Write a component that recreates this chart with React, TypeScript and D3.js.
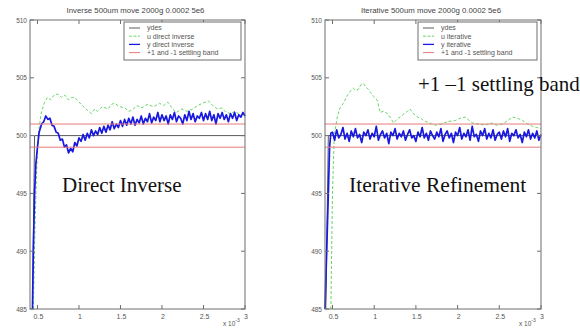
import * as d3 from 'd3';
import React from 'react';

// axis setup shared by both panels
const X_TICKS = [0.5, 1, 1.5, 2, 2.5, 3];
const X_TICK_LABELS = ['0.5', '1', '1.5', '2', '2.5', '3'];
const Y_TICKS = [485, 490, 495, 500, 505, 510];
const X_DOMAIN = [0.41, 3];
const Y_DOMAIN = [485, 510];
const BAND = [499, 501];

const LEFT_TITLE = 'Inverse 500um move 2000g 0.0002 5e6';
const RIGHT_TITLE = 'Iterative 500um move 2000g 0.0002 5e6';
const LEFT_LEGEND = ['ydes', 'u direct inverse', 'y direct inverse', '+1 and -1 settling band'];
const RIGHT_LEGEND = ['ydes', 'u iterative', 'y iterative', '+1 and -1 settling band'];

// ydes reference step
const LEFT_YDES = [[0.44, 485], [0.465, 500], [3, 500]];
const RIGHT_YDES = [[0.42, 485], [0.45, 500], [3, 500]];

// u (control)
const LEFT_U = [
  [0.45, 485], [0.47, 492], [0.49, 497], [0.51, 500], [0.54, 501.8], [0.58, 502.8], [0.62, 503.3],
  [0.66, 503.1], [0.7, 503.5], [0.75, 503.6], [0.79, 503.3], [0.83, 503.5], [0.87, 503.1], [0.91, 503.3],
  [0.95, 503.3], [1.0, 502.9], [1.04, 502.6], [1.1, 502.2], [1.15, 501.9], [1.19, 502.3], [1.22, 502.1],
  [1.28, 502.5], [1.35, 502.3], [1.39, 502.7], [1.43, 502.8], [1.49, 502.5], [1.55, 502.4], [1.6, 502.1],
  [1.64, 502.2], [1.7, 502.6], [1.76, 502.4], [1.82, 502.7], [1.9, 502.5], [1.97, 502.8], [2.02, 502.6],
  [2.07, 502.9], [2.12, 502.4], [2.17, 502.0], [2.24, 502.3], [2.3, 502.1], [2.37, 502.3], [2.43, 502.6],
  [2.49, 502.8], [2.56, 503.0], [2.61, 502.6], [2.67, 502.3], [2.72, 502.4], [2.76, 502.1], [2.82, 501.9],
  [2.88, 502.1], [2.94, 501.8], [3.0, 501.9],
];
const RIGHT_U = [
  [0.48, 485], [0.5, 495], [0.52, 500], [0.56, 501.7], [0.59, 502.4], [0.63, 502.8], [0.68, 503.5],
  [0.72, 503.9], [0.75, 504.1], [0.78, 503.9], [0.81, 504.0], [0.84, 504.4], [0.87, 504.5], [0.9, 504.2],
  [0.93, 504.0], [0.96, 503.7], [0.99, 503.4], [1.02, 503.2], [1.04, 503.0], [1.07, 502.0], [1.11, 502.1],
  [1.16, 501.9], [1.2, 501.5], [1.23, 501.1], [1.27, 501.4], [1.31, 501.6], [1.36, 501.9], [1.4, 502.1],
  [1.43, 502.3], [1.47, 501.9], [1.52, 501.6], [1.56, 501.5], [1.59, 501.3], [1.66, 501.1], [1.73, 500.9],
  [1.8, 501.0], [1.88, 501.2], [1.97, 501.3], [2.03, 501.5], [2.09, 501.6], [2.14, 501.3], [2.18, 501.1],
  [2.25, 501.0], [2.33, 500.9], [2.4, 501.1], [2.47, 500.9], [2.54, 501.0], [2.6, 501.3], [2.66, 501.6],
  [2.72, 501.5], [2.78, 501.3], [2.84, 501.0], [2.9, 500.8], [2.95, 500.7], [3.0, 500.6],
];

// y (output): the steep rise, then the noisy part sampled every 0.025
const LEFT_Y_RISE = [[0.44, 485], [0.45, 490], [0.465, 495], [0.48, 497.5], [0.5, 499], [0.52, 500.3], [0.55, 501]];
const LEFT_Y_START = 0.575;
const LEFT_Y = [
  501.2, 501.7, 501.4, 501.5, 500.9, 500.8, 500.3, 500.2, 499.6, 499.7,
  499.0, 499.2, 498.5, 498.9, 498.6, 499.4, 499.1, 499.8, 499.5, 500.1,
  499.6, 500.2, 499.8, 500.5, 500.0, 500.4, 500.1, 500.7, 500.2, 500.8,
  500.3, 500.9, 500.5, 501.2, 500.6, 501.0, 500.7, 501.3, 500.8, 501.4,
  500.9, 501.5, 501.0, 501.6, 500.9, 501.4, 501.1, 501.7, 501.0, 501.5,
  501.2, 501.9, 501.1, 501.6, 501.3, 502.0, 501.2, 501.8, 501.3, 501.7,
  501.0, 501.8, 501.4, 502.0, 501.2, 501.7, 501.5, 501.0, 501.8, 501.3,
  502.1, 501.4, 501.9, 501.2, 501.7, 501.5, 502.0, 501.3, 501.9, 501.4,
  502.1, 501.3, 501.8, 501.0, 501.9, 501.5, 502.0, 501.4, 501.8, 501.2,
  501.9, 501.5, 502.0, 501.3, 501.8, 501.6, 502.0, 501.7,
];
const RIGHT_Y_RISE = [[0.41, 485], [0.43, 490], [0.45, 495], [0.465, 499], [0.48, 500.2]];
const RIGHT_Y_START = 0.5;
const RIGHT_Y = [
  500.3, 499.6, 500.5, 499.8, 500.1, 500.7, 499.7, 500.2, 499.5, 500.4,
  499.9, 500.6, 499.8, 500.1, 499.4, 500.3, 500.0, 500.5, 499.7, 500.2,
  499.9, 500.8, 499.6, 500.1, 500.4, 499.8, 500.2, 499.3, 500.3, 500.0,
  500.6, 499.7, 500.2, 499.9, 500.4, 499.6, 500.1, 500.5, 499.8, 500.0,
  499.5, 500.3, 499.9, 500.7, 499.8, 500.2, 499.6, 500.4, 500.0, 499.7,
  500.3, 499.9, 500.6, 499.5, 500.1, 500.4, 499.8, 500.2, 499.4, 500.3,
  500.0, 500.7, 499.7, 500.2, 499.9, 500.5, 499.6, 500.8, 499.9, 500.1,
  499.5, 500.4, 500.0, 500.6, 499.7, 500.2, 499.8, 500.5, 499.6, 500.1,
  500.3, 499.7, 500.4, 499.9, 500.6, 499.5, 500.2, 500.0, 500.5, 499.8,
  500.1, 499.4, 500.3, 499.9, 500.5, 499.7, 500.2, 499.8, 500.4, 499.6,
  500.1,
];

const C_YDES = '#5a5a5a';
const C_U = '#66d866';
const C_Y = '#1818e0';
const C_BAND = '#e87a7a';
const C_AXIS = '#6e6e6e';
const SMALL_FONT = '"Liberation Sans", Arial, sans-serif';
const SERIF = '"Liberation Serif", "Times New Roman", serif';

function toPairs(start, step, values) {
  return values.map((v, i) => [start + i * step, v]);
}

function Panel({ left, right, top, bottom, title, legend, legendX, legendW, ydes, u, y }) {
  const x = d3.scaleLinear().domain(X_DOMAIN).range([left, right]);
  const yS = d3.scaleLinear().domain(Y_DOMAIN).range([bottom, top]);
  const line = d3.line().x(d => x(d[0])).y(d => yS(d[1]));
  const tick = 4;
  const legendColors = [C_YDES, C_U, C_Y, C_BAND];

  return (
    <g>
      <text x={(left + right) / 2 - 2} y={13} textAnchor="middle" fontSize={7.8} fill="#444" fontFamily={SMALL_FONT}>
        {title}
      </text>
      <rect x={left} y={top} width={right - left} height={bottom - top} fill="#fff" />

      <path d={line(ydes) || ''} fill="none" stroke={C_YDES} strokeWidth={1} />
      <path d={line(u) || ''} fill="none" stroke={C_U} strokeWidth={1} strokeDasharray="3,2" />
      <path d={line(y) || ''} fill="none" stroke={C_Y} strokeWidth={1.7} strokeLinejoin="round" />
      {BAND.map(b => (
        <line key={b} x1={left} x2={right} y1={yS(b)} y2={yS(b)} stroke={C_BAND} strokeWidth={1} />
      ))}

      {/* frame and inward ticks */}
      <rect x={left} y={top} width={right - left} height={bottom - top} fill="none" stroke={C_AXIS} strokeWidth={1} />
      {X_TICKS.map((t, i) => (
        <g key={'x' + t}>
          <line x1={x(t)} x2={x(t)} y1={bottom} y2={bottom - tick} stroke={C_AXIS} />
          <line x1={x(t)} x2={x(t)} y1={top} y2={top + tick} stroke={C_AXIS} />
          <text x={x(t) + 1} y={bottom + 10} textAnchor="middle" fontSize={7} fill="#555" fontFamily={SMALL_FONT}>
            {X_TICK_LABELS[i]}
          </text>
        </g>
      ))}
      {Y_TICKS.map(t => (
        <g key={'y' + t}>
          <line x1={left} x2={left + tick} y1={yS(t)} y2={yS(t)} stroke={C_AXIS} />
          <line x1={right} x2={right - tick} y1={yS(t)} y2={yS(t)} stroke={C_AXIS} />
          <text x={left - 3} y={yS(t) + 2.5} textAnchor="end" fontSize={6.5} fill="#555" fontFamily={SMALL_FONT}>
            {t}
          </text>
        </g>
      ))}
      <text x={right - 22} y={326} fontSize={6.5} fill="#555" fontFamily={SMALL_FONT}>
        x 10<tspan dy={-4} fontSize={5}>-3</tspan>
      </text>

      {/* legend */}
      <rect x={legendX} y={22} width={legendW} height={38} fill="#fff" stroke={C_AXIS} strokeWidth={1} />
      {legend.map((label, i) => (
        <g key={label}>
          <line x1={legendX + 5} x2={legendX + 16} y1={28 + i * 8.2} y2={28 + i * 8.2} stroke={legendColors[i]}
            strokeWidth={i === 2 ? 1.3 : 1} strokeDasharray={i === 1 ? '3,1.5' : undefined} />
          <text x={legendX + 23} y={30.4 + i * 8.2} fontSize={7} fill="#555" fontFamily={SMALL_FONT}>
            {label}
          </text>
        </g>
      ))}
    </g>
  );
}

export default function App() {
  const leftY = [...LEFT_Y_RISE, ...toPairs(LEFT_Y_START, 0.025, LEFT_Y)];
  const rightY = [...RIGHT_Y_RISE, ...toPairs(RIGHT_Y_START, 0.025, RIGHT_Y)];

  return (
    <svg width={580} height={331} style={{ position: 'absolute', left: 0, top: 0, background: '#fff' }}>
      <Panel left={30} right={245} top={20} bottom={309} title={LEFT_TITLE} legend={LEFT_LEGEND}
        legendX={124} legendW={117} ydes={LEFT_YDES} u={LEFT_U} y={leftY} />
      <Panel left={325} right={541} top={20} bottom={309} title={RIGHT_TITLE} legend={RIGHT_LEGEND}
        legendX={418} legendW={119} ydes={RIGHT_YDES} u={RIGHT_U} y={rightY} />

      <text x={62} y={192} fontSize={21} fontFamily={SERIF} fill="#111">Direct Inverse</text>
      <text x={349} y={192} fontSize={21.5} fontFamily={SERIF} fill="#111">Iterative Refinement</text>
      <text x={418} y={91} fontSize={21} fontFamily={SERIF} fill="#111">+1 –1 settling band</text>
    </svg>
  );
}
